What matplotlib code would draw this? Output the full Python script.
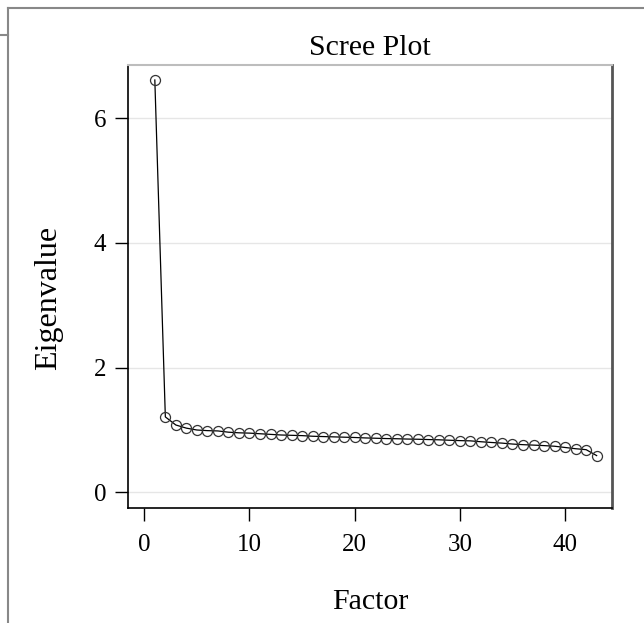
import matplotlib
matplotlib.use("Agg")
import matplotlib.pyplot as plt
from matplotlib.lines import Line2D

factors = list(range(1, 44))
eigenvalues = [6.61, 1.21, 1.08, 1.03, 1.00, 0.99, 0.985, 0.965, 0.955, 0.95,
               0.94, 0.93, 0.92, 0.915, 0.91, 0.90, 0.895, 0.89, 0.885, 0.88,
               0.873, 0.868, 0.863, 0.86, 0.855, 0.852, 0.847, 0.843, 0.836, 0.830,
               0.826, 0.812, 0.800, 0.790, 0.775, 0.765, 0.758, 0.750, 0.740, 0.720,
               0.700, 0.685, 0.59]
xticks = [0, 10, 20, 30, 40]
yticks = [0, 2, 4, 6]

plt.rcParams['font.family'] = ['Liberation Serif', 'DejaVu Serif']
FS = 21.5
TFS = 18

fig = plt.figure(figsize=(6.44, 6.23), dpi=100)
ax = fig.add_axes([128/644, 1-508/623, (612-128)/644, (508-65)/623])

for y in yticks:
    ax.axhline(y, color='#e6e6e6', lw=1.0, zorder=0)

ax.plot(factors, eigenvalues, color='black', lw=0.9, marker='o', markersize=7.2,
        markerfacecolor='none', markeredgecolor='#333333', markeredgewidth=0.9)

ax.set_xlim(-1.55, 44.46)
ax.set_ylim(-0.25, 6.85)
ax.set_xticks(xticks)
ax.set_yticks(yticks)
ax.tick_params(axis='both', direction='out', length=9.5, width=1.0, labelsize=TFS, pad=6)
ax.tick_params(axis='x', pad=9)

ax.spines['left'].set_color('black')
ax.spines['bottom'].set_color('black')
ax.spines['left'].set_linewidth(1.2)
ax.spines['bottom'].set_linewidth(1.2)
ax.spines['top'].set_color('#bdbdbd')
ax.spines['top'].set_linewidth(1.5)
ax.spines['right'].set_color('#555555')
ax.spines['right'].set_linewidth(2.0)

ax.set_title('Scree Plot', fontsize=FS, pad=7)
ax.set_xlabel('Factor', fontsize=FS, labelpad=24)
ax.set_ylabel('Eigenvalue', fontsize=23)
ax.yaxis.set_label_coords(-0.135, 0.475)

# outer frame lines
fx = 7.5/644
fy = 1 - 7.5/623
fig.add_artist(Line2D([fx, 1], [fy, fy], transform=fig.transFigure, color='#888888', lw=1.5))
fig.add_artist(Line2D([fx, fx], [0, fy], transform=fig.transFigure, color='#888888', lw=1.5))
fig.add_artist(Line2D([0, fx], [1-35/623, 1-35/623], transform=fig.transFigure, color='#888888', lw=1.5))

fig.savefig('out.png', dpi=100)
